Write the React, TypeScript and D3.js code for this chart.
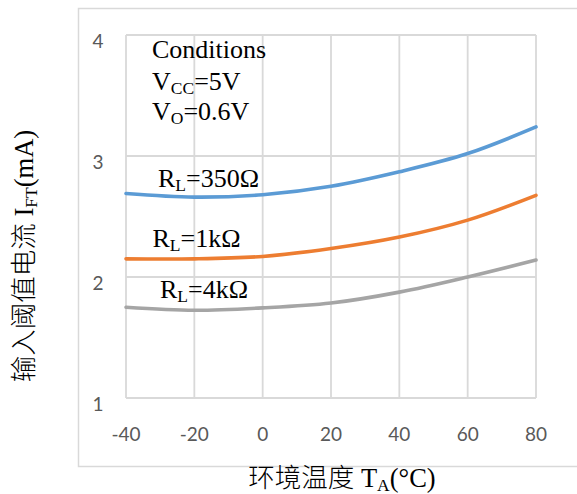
import React from "react";
import * as d3 from "d3";

const temps = [-40, -20, 0, 20, 40, 60, 80];
const rl350 = [2.69, 2.66, 2.68, 2.75, 2.87, 3.02, 3.24];
const rl1k = [2.15, 2.15, 2.17, 2.235, 2.33, 2.47, 2.675];
const rl4k = [1.75, 1.725, 1.745, 1.785, 1.875, 2.0, 2.14];
const xTicks = [-40, -20, 0, 20, 40, 60, 80];
const yTicks = [1, 2, 3, 4];

const W = 577;
const H = 494;
const SERIF = "'Liberation Serif', 'Times New Roman', 'Noto Sans CJK SC', serif";
const SANS = "Lato, 'Open Sans', sans-serif";

export default function App() {
  const x = d3.scaleLinear().domain([-40, 80]).range([126, 536]);
  const y = d3.scaleLinear().domain([1, 4]).range([398, 35]);
  const line = d3
    .line<number>()
    .x((_, i) => x(temps[i]))
    .y((d) => y(d))
    .curve(d3.curveCatmullRom.alpha(0.5));

  const series = [
    { v: rl350, c: "#5b9bd5" },
    { v: rl1k, c: "#ed7d31" },
    { v: rl4k, c: "#a5a5a5" },
  ];

  const sub = 17.5;

  return (
    <svg
      width={W}
      height={H}
      style={{ position: "absolute", left: 0, top: 0, background: "#fff" }}
    >
      <rect x={78.5} y={8.5} width={560} height={458} fill="#fff" stroke="#d9d9d9" strokeWidth={1.5} />
      {xTicks.map((t) => (
        <line key={"gx" + t} x1={x(t)} x2={x(t)} y1={y(4)} y2={y(1)} stroke="#d9d9d9" strokeWidth={1.8} />
      ))}
      {yTicks.map((t) => (
        <line key={"gy" + t} x1={x(-40)} x2={x(80)} y1={y(t)} y2={y(t)} stroke="#d9d9d9" strokeWidth={1.8} />
      ))}
      {series.map((s, i) => (
        <path key={i} d={line(s.v) || ""} fill="none" stroke={s.c} strokeWidth={3.6} strokeLinecap="round" />
      ))}
      {yTicks.map((t) => (
        <text key={"ty" + t} x={98} y={y(t) + 12.5} textAnchor="middle" fontFamily={SANS} fontSize={19} fill="#595959">
          {t}
        </text>
      ))}
      {xTicks.map((t) => (
        <text key={"tx" + t} x={x(t)} y={441} textAnchor="middle" fontFamily={SANS} fontSize={19} fill="#595959">
          {t}
        </text>
      ))}
      <g fontFamily={SERIF} fontSize={26} fill="#000">
        <text x={152} y={58}>Conditions</text>
        <text x={152} y={90}>
          V<tspan fontSize={sub} dy={4}>CC</tspan>
          <tspan dy={-4}>=5V</tspan>
        </text>
        <text x={152} y={120}>
          V<tspan fontSize={sub} dy={4}>O</tspan>
          <tspan dy={-4}>=0.6V</tspan>
        </text>
        <text x={158} y={187}>
          R<tspan fontSize={sub} dy={4}>L</tspan>
          <tspan dy={-4}>=350Ω</tspan>
        </text>
        <text x={152.5} y={247}>
          R<tspan fontSize={sub} dy={4}>L</tspan>
          <tspan dy={-4}>=1kΩ</tspan>
        </text>
        <text x={160} y={298}>
          R<tspan fontSize={sub} dy={4}>L</tspan>
          <tspan dy={-4}>=4kΩ</tspan>
        </text>
      </g>
      <text x={342} y={487} textAnchor="middle" fontFamily={SERIF} fontSize={26.5} fontWeight={300} fill="#000">
        环境温度 T<tspan fontSize={sub} dy={4}>A</tspan>
        <tspan dy={-4}>(°C)</tspan>
      </text>
      <text
        transform={`translate(33,256) rotate(-90)`}
        textAnchor="middle"
        fontFamily={SERIF}
        fontSize={26.5}
        fontWeight={300}
        fill="#000"
      >
        输入阈值电流 I<tspan fontSize={sub} dy={4}>FT</tspan>
        <tspan dy={-4}>(mA)</tspan>
      </text>
    </svg>
  );
}
